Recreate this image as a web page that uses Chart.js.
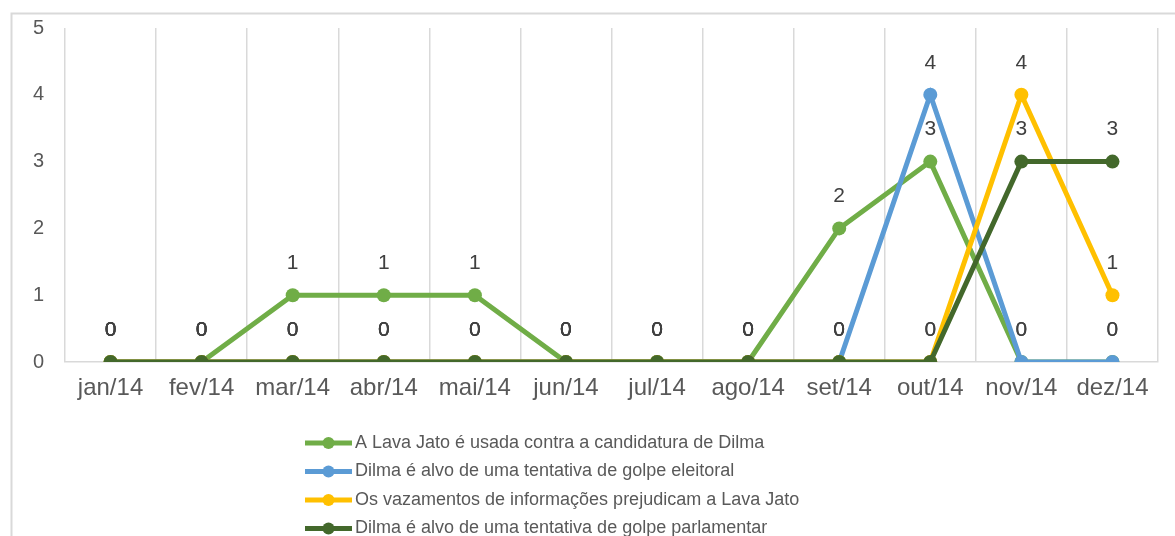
<!DOCTYPE html>
<html>
<head>
<meta charset="utf-8">
<script src="https://cdn.jsdelivr.net/npm/chart.js@4/dist/chart.umd.min.js"></script>
<style>
html,body{margin:0;padding:0;background:#fff;}
#wrap{position:relative;width:1175px;height:536px;}
</style>
</head>
<body>
<div id="wrap"><canvas id="c" width="1175" height="536"></canvas></div>
<script>
const categories = ['jan/14','fev/14','mar/14','abr/14','mai/14','jun/14','jul/14','ago/14','set/14','out/14','nov/14','dez/14'];
const seriesNames = [
  'A Lava Jato é usada contra a candidatura de Dilma',
  'Dilma é alvo de uma tentativa de golpe eleitoral',
  'Os vazamentos de informações prejudicam a Lava Jato',
  'Dilma é alvo de uma tentativa de golpe parlamentar'
];
const lavaJatoContraDilma = [0,0,1,1,1,0,0,0,2,3,0,0];
const golpeEleitoral      = [0,0,0,0,0,0,0,0,0,4,0,0];
const vazamentos          = [0,0,0,0,0,0,0,0,0,0,4,1];
const golpeParlamentar    = [0,0,0,0,0,0,0,0,0,0,3,3];
const yTicks = [0,1,2,3,4,5];

const seriesValues = [lavaJatoContraDilma, golpeEleitoral, vazamentos, golpeParlamentar];
const colors = ['#70AD47','#5B9BD5','#FFC000','#43682B'];
const FONT = "'Liberation Sans', Arial, sans-serif";

const datasets = seriesValues.map((vals, i) => ({
  label: seriesNames[i],
  data: vals,
  borderColor: colors[i],
  backgroundColor: colors[i],
  borderWidth: 5,
  pointRadius: 7,
  pointHoverRadius: 7,
  pointBorderWidth: 0,
  pointBackgroundColor: colors[i],
  tension: 0,
  order: seriesValues.length - 1 - i
}));

const framePlugin = {
  id: 'frame',
  beforeDraw(chart) {
    const ctx = chart.ctx;
    ctx.save();
    ctx.strokeStyle = '#d9d9d9';
    ctx.lineWidth = 2;
    ctx.beginPath();
    ctx.moveTo(11.5, 536);
    ctx.lineTo(11.5, 13.5);
    ctx.lineTo(1175, 13.5);
    ctx.stroke();
    ctx.restore();
  }
};

const labelsPlugin = {
  id: 'dlabels',
  afterDatasetsDraw(chart) {
    const ctx = chart.ctx;
    ctx.save();
    ctx.font = '21px ' + FONT;
    ctx.fillStyle = '#404040';
    ctx.textAlign = 'center';
    ctx.textBaseline = 'middle';
    chart.data.datasets.forEach((ds, i) => {
      const meta = chart.getDatasetMeta(i);
      meta.data.forEach((pt, j) => {
        ctx.fillText(String(ds.data[j]), pt.x, pt.y - 32);
      });
    });
    ctx.restore();
  }
};

const legendPlugin = {
  id: 'customLegend',
  afterDraw(chart) {
    const ctx = chart.ctx;
    ctx.save();
    ctx.font = '18px ' + FONT;
    ctx.textBaseline = 'middle';
    ctx.textAlign = 'left';
    const x0 = 305, x1 = 352, y0 = 443, dy = 28.5;
    chart.data.datasets.forEach((ds, i) => {
      const y = y0 + i * dy;
      ctx.strokeStyle = ds.borderColor;
      ctx.lineWidth = 5;
      ctx.beginPath();
      ctx.moveTo(x0, y);
      ctx.lineTo(x1, y);
      ctx.stroke();
      ctx.fillStyle = ds.borderColor;
      ctx.beginPath();
      ctx.arc((x0 + x1) / 2, y, 6, 0, Math.PI * 2);
      ctx.fill();
      ctx.fillStyle = '#595959';
      ctx.fillText(ds.label, x1 + 3, y);
    });
    ctx.restore();
  }
};

new Chart(document.getElementById('c'), {
  type: 'line',
  data: { labels: categories, datasets },
  options: {
    responsive: false,
    animation: false,
    events: [],
    layout: { padding: { left: 0, right: 17, top: 28, bottom: 0 } },
    plugins: { legend: { display: false }, tooltip: { enabled: false } },
    scales: {
      x: {
        offset: true,
        grid: { display: true, offset: true, color: '#d9d9d9', lineWidth: 1.5, drawTicks: false },
        border: { display: true, color: '#d9d9d9', width: 1.5 },
        ticks: { color: '#595959', font: { family: FONT, size: 24 }, padding: 12, maxRotation: 0, autoSkip: false },
        afterFit(scale) { scale.height = 174; scale.paddingLeft = 0; scale.paddingRight = 0; }
      },
      y: {
        min: 0, max: 5,
        afterBuildTicks(scale) { scale.ticks = yTicks.map(v => ({ value: v })); },
        grid: { display: false, drawTicks: false },
        border: { display: false },
        ticks: { color: '#595959', font: { family: FONT, size: 20 }, padding: 21 },
        afterFit(scale) { scale.width = 65; scale.paddingTop = 0; scale.paddingBottom = 0; }
      }
    }
  },
  plugins: [framePlugin, labelsPlugin, legendPlugin]
});
</script>
</body>
</html>
